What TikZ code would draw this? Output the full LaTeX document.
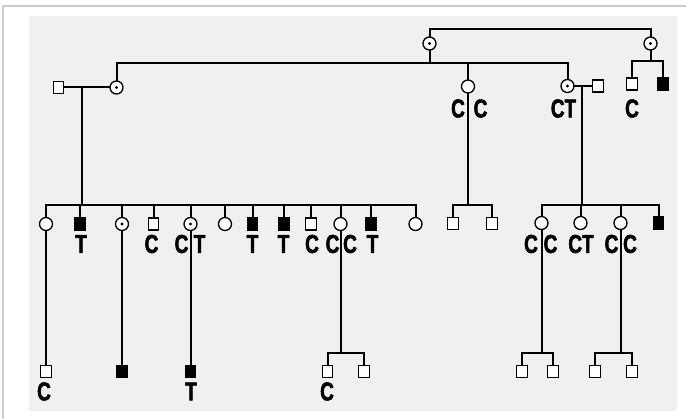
\documentclass[tikz,border=0pt]{standalone}
\usepackage{fontspec}
\newfontfamily\labfont[FakeStretch=0.73, FakeBold=2]{Liberation Sans}
\begin{document}
\begin{tikzpicture}[x=1pt,y=-1pt,
  conn/.style={line width=2pt, line cap=rect},
  sym/.style={draw, line width=1.3pt, inner sep=0pt, fill=white},
  male/.style={sym, rectangle, minimum width=10.5pt, minimum height=12pt},
  affm/.style={male, fill=black},
  female/.style={sym, circle, minimum size=13pt},
  carrier/.style={female, path picture={\fill[black] (path picture bounding box.center) circle (1.6pt);}},
  lab/.style={inner sep=0pt, font=\labfont\bfseries\fontsize{26}{26}\selectfont}]
\useasboundingbox (0,0) rectangle (686,419);
% page frame and grey panel
\fill[white] (0,0) rectangle (686,419);
\draw[line width=1.5pt, black!20] (3,419) -- (3,6) -- (686,6);
\fill[black!6] (29,16) rectangle (677,411);

% ---- generation I
\node[carrier] (I1) at (429.5,43.5) {};
\node[carrier] (I2) at (650.5,43.5) {};
\coordinate (t1) at (429.5,29.5);
\coordinate (t2) at (650.5,29.5);

% ---- generation II
\coordinate (s2) at (429.5,63);
\node[male]    (II0) at (58.5,87.5) {};
\node[carrier] (II1) at (116.5,87.5) {};
\node[female]  (II2) at (468,86.5) {};
\node[carrier] (II3) at (567.5,86) {};
\node[male]    (II4) at (598,86) {};
\coordinate (s2b) at (650.5,61);
\node[male]    (II5) at (632,84) {};
\node[affm]    (II6) at (663,84) {};
\coordinate (m1) at (82,87.5);
\coordinate (m3) at (582,86);

% ---- generation III
\coordinate (sA) at (82,205);
\node[female]  (A1)  at (46,224) {};
\node[affm]    (A2)  at (80,224) {};
\node[carrier] (A3)  at (122,224) {};
\node[male]    (A4)  at (153.5,224) {};
\node[carrier] (A5)  at (190.5,224) {};
\node[female]  (A6)  at (225,224) {};
\node[affm]    (A7)  at (252.5,224) {};
\node[affm]    (A8)  at (284,224) {};
\node[male]    (A9)  at (311,224) {};
\node[female]  (A10) at (340.5,224) {};
\node[affm]    (A11) at (371,224) {};
\node[female]  (A12) at (415.5,224) {};

\coordinate (sD) at (468,205);
\node[male] (D1) at (453,223.5) {};
\node[male] (D2) at (492,223.5) {};

\coordinate (sE) at (582,205);
\node[female] (E1) at (541.5,223) {};
\node[female] (E2) at (580.5,223) {};
\node[female] (E3) at (620.5,223) {};
\node[affm]   (E4) at (658.5,223) {};

% ---- generation IV
\node[male] (B1) at (46,371.5) {};
\node[affm] (B3) at (122,371.5) {};
\node[affm] (B5) at (190.5,371.5) {};
\coordinate (sC) at (340.5,353);
\node[male] (C1) at (327.5,371.5) {};
\node[male] (C2) at (364,371.5) {};
\coordinate (sF1) at (541.5,353);
\node[male] (F1) at (522,371.5) {};
\node[male] (F2) at (553,371.5) {};
\coordinate (sF3) at (620.5,353);
\node[male] (F3) at (595,371.5) {};
\node[male] (F4) at (632,371.5) {};

% ---- connectors
\begin{scope}[conn]
  \draw (I1.north) -- (t1) -- (t2) -- (I2.north);
  \draw (I1.south) -- (s2);
  \draw (II1.north) -- (II1.north |- s2) -- (II3.north |- s2) -- (II3.north);
  \draw (II2.north) -- (II2.north |- s2);
  \draw (I2.south) -- (s2b);
  \draw (II5.north) |- (s2b) -| (II6.north);
  \draw (II0.east) -- (II1.west);
  \draw (II3.east) -- (II4.west);
  \draw (m1) -- (sA);
  \draw (m3) -- (sE);
  \draw (II2.south) -- (sD);
  \draw (A1.north) |- (sA) -| (A12.north);
  \foreach \c in {A2,A3,A4,A5,A6,A7,A8,A9,A10,A11}
    \draw (\c.north) -- (\c.north |- sA);
  \draw (D1.north) |- (sD) -| (D2.north);
  \draw (E1.north) |- (sE) -| (E4.north);
  \draw (E2.north) -- (E2.north |- sE);
  \draw (E3.north) -- (E3.north |- sE);
  \draw (A1.south) -- (B1.north);
  \draw (A3.south) -- (B3.north);
  \draw (A5.south) -- (B5.north);
  \draw (A10.south) -- (sC);
  \draw (C1.north) |- (sC) -| (C2.north);
  \draw (E1.south) -- (sF1);
  \draw (F1.north) |- (sF1) -| (F2.north);
  \draw (E3.south) -- (sF3);
  \draw (F3.north) |- (sF3) -| (F4.north);
\end{scope}

% ---- genotype labels
\node[lab] (l1)  at (458,108.5) {C};
\node[lab] (l2)  at (480.5,108.5) {C};
\node[lab] (l3)  at (563.5,108.5) {CT};
\node[lab] (l4)  at (632,108.5) {C};

\node[lab] (l5)  at (81,244) {T};
\node[lab] (l6)  at (151.5,244) {C};
\node[lab] (l7)  at (181.5,244) {C};
\node[lab] (l8)  at (199.5,244) {T};
\node[lab] (l9)  at (252.5,244) {T};
\node[lab] (l10) at (283.5,244) {T};
\node[lab] (l11) at (312,244) {C};
\node[lab] (l12) at (332.5,244) {C};
\node[lab] (l13) at (350,244) {C};
\node[lab] (l14) at (372.5,244) {T};
\node[lab] (l15) at (531,244) {C};
\node[lab] (l16) at (550.5,244) {C};
\node[lab] (l17) at (581,244) {CT};
\node[lab] (l18) at (611.5,244) {C};
\node[lab] (l19) at (630,244) {C};

\node[lab] (l20) at (44,391.5) {C};
\node[lab] (l21) at (191,391.5) {T};
\node[lab] (l22) at (327,391.5) {C};
\end{tikzpicture}
\end{document}
